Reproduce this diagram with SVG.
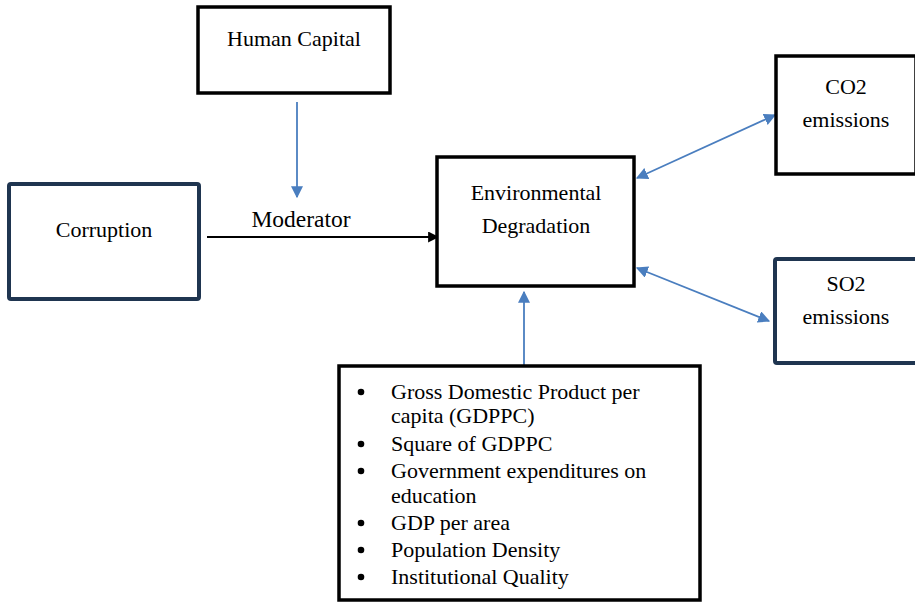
<svg xmlns="http://www.w3.org/2000/svg" width="915" height="603" viewBox="0 0 915 603">
<style>
.box{fill:#fff;stroke:#000;stroke-width:3.5}
.navy{fill:#fff;stroke:#1f3550;stroke-width:4}
.c{text-anchor:middle}
.blue{stroke:#4a7ebf;stroke-width:1.8;fill:none}
.blk{stroke:#000;stroke-width:2;fill:none}
</style>
<defs>
<marker id="ab2" viewBox="0 0 10 10" refX="9" refY="5" markerWidth="12" markerHeight="12" orient="auto-start-reverse" markerUnits="userSpaceOnUse"><path d="M0,0 L10,5 L0,10 z" fill="#4a7ebf"/></marker>
<marker id="ak" viewBox="0 0 10 10" refX="9" refY="5" markerWidth="11" markerHeight="11" orient="auto" markerUnits="userSpaceOnUse"><path d="M0,0 L10,5 L0,10 z" fill="#000"/></marker>
</defs>
<g font-family="'Liberation Serif', 'Times New Roman', serif" font-size="22" fill="#000">
<g id="connectors">
<line class="blue" x1="297" y1="102" x2="297" y2="197" marker-end="url(#ab2)"/>
<line class="blk" x1="207" y1="237" x2="438" y2="237" marker-end="url(#ak)"/>
<text x="301" y="227" class="c" font-size="23.5">Moderator</text>
<line class="blue" x1="637" y1="178" x2="775" y2="115" marker-start="url(#ab2)" marker-end="url(#ab2)"/>
<line class="blue" x1="637" y1="268" x2="769" y2="321" marker-start="url(#ab2)" marker-end="url(#ab2)"/>
<line class="blue" x1="524" y1="367" x2="524" y2="292" marker-end="url(#ab2)"/>
</g>
<g id="human-capital">
<rect class="box" x="198" y="7" width="192" height="86"/>
<text x="294" y="46" class="c">Human Capital</text>
</g>
<g id="corruption">
<rect class="navy" x="9" y="184" width="190" height="115" rx="2"/>
<text x="104" y="237" class="c">Corruption</text>
</g>
<g id="env-degradation">
<rect class="box" x="437" y="157" width="197" height="129"/>
<text x="536" y="200" class="c">Environmental</text>
<text x="536" y="233" class="c">Degradation</text>
</g>
<g id="co2">
<rect class="box" x="776" y="56" width="140" height="118"/>
<text x="846" y="94" class="c">CO2</text>
<text x="846" y="127" class="c">emissions</text>
</g>
<g id="so2">
<rect class="navy" x="775" y="259" width="142" height="104" rx="2"/>
<text x="846" y="291" class="c">SO2</text>
<text x="846" y="324" class="c">emissions</text>
</g>
<g id="determinants">
<rect class="box" x="339" y="366" width="361" height="234"/>
<g fill="#000">
<circle cx="361" cy="392" r="3.3"/>
<circle cx="361" cy="444" r="3.3"/>
<circle cx="361" cy="471" r="3.3"/>
<circle cx="361" cy="523" r="3.3"/>
<circle cx="361" cy="550" r="3.3"/>
<circle cx="361" cy="577" r="3.3"/>
</g>
<text x="391" y="399">Gross Domestic Product per</text>
<text x="391" y="423">capita (GDPPC)</text>
<text x="391" y="451">Square of GDPPC</text>
<text x="391" y="478">Government expenditures on</text>
<text x="391" y="503">education</text>
<text x="391" y="530">GDP per area</text>
<text x="391" y="557">Population Density</text>
<text x="391" y="584">Institutional Quality</text>
</g>
</g>
</svg>
